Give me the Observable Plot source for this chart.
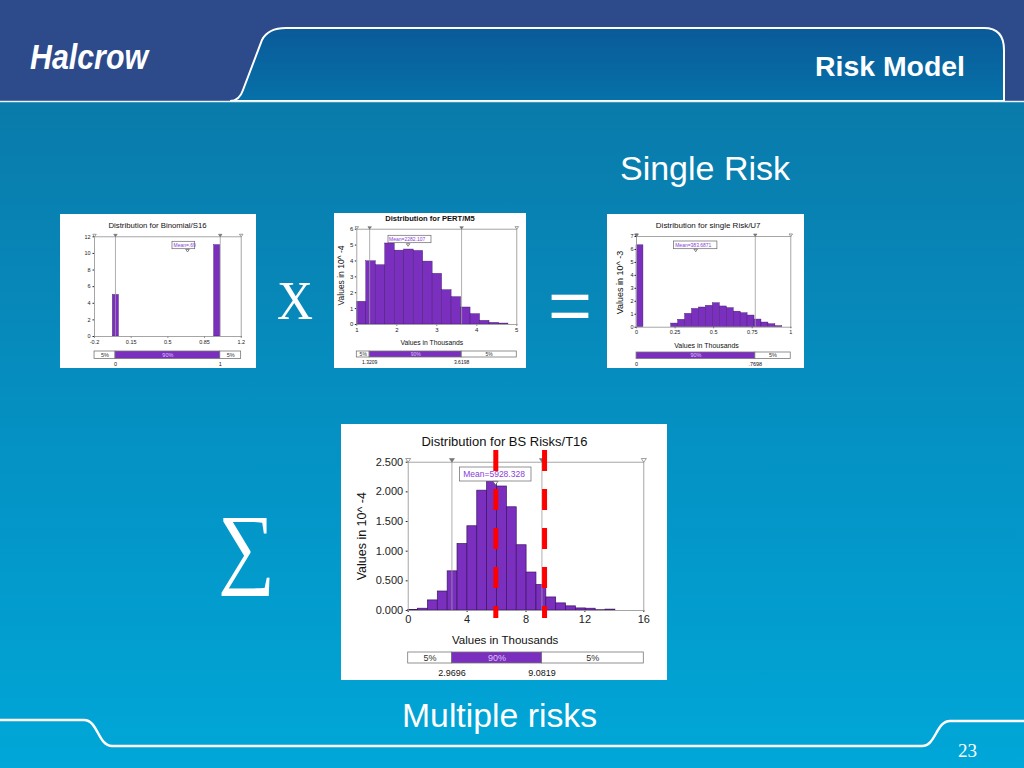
<!DOCTYPE html>
<html>
<head>
<meta charset="utf-8">
<script src="https://cdn.jsdelivr.net/npm/d3@7"></script>
<script src="https://cdn.jsdelivr.net/npm/@observablehq/plot@0.6"></script>
<style>
  body { margin: 0; background: #fff; }
  #slide { position: relative; width: 1024px; height: 768px; overflow: hidden;
           background: linear-gradient(#0b74a3, #0590c2 55%, #00a7d8);
           font-family: "Liberation Sans", Arial, sans-serif; }
  .box { position: absolute; background: #fff; }
  svg.deco { position: absolute; left: 0; top: 0; }
</style>
</head>
<body>
<div id="slide">
<svg class="deco" width="1024" height="768">
  <defs>
    <linearGradient id="tabg" x1="0" y1="0" x2="0" y2="1">
      <stop offset="0" stop-color="#0a5a99"/>
      <stop offset="1" stop-color="#0671a8"/>
    </linearGradient>
  </defs>
  <rect x="0" y="0" width="1024" height="101" fill="#2d4a8b"/>
  <path d="M230,101 C238,101 241,96 243,90 L262,40 Q268,28 286,28 L984,28 Q1004,28 1004,50 L1004,101 Z"
        fill="url(#tabg)" stroke="#ffffff" stroke-width="2"/>
  <line x1="0" y1="101.5" x2="1024" y2="101.5" stroke="#e6f1f8" stroke-width="1.5"/>
  <path d="M0,720 L84,720 C98,720 98,746 112,746 L922,746 C936,746 936,721 950,721 L1024,721"
        fill="none" stroke="#ffffff" stroke-width="2.5"/>
  <text x="30" y="69" fill="#fff" font-family="Liberation Sans" font-weight="bold" font-style="italic"
        font-size="35" textLength="118" lengthAdjust="spacingAndGlyphs">Halcrow</text>
  <text x="965" y="76" fill="#fff" text-anchor="end" font-family="Liberation Sans" font-weight="bold"
        font-size="27" textLength="150" lengthAdjust="spacingAndGlyphs">Risk Model</text>
  <text x="620" y="180" fill="#fff" font-family="Liberation Sans" font-size="33"
        textLength="170" lengthAdjust="spacingAndGlyphs">Single Risk</text>
  <text x="277" y="319" fill="#fff" font-family="Liberation Serif" font-size="54"
        textLength="36" lengthAdjust="spacingAndGlyphs">X</text>
  <text x="548" y="330" fill="#fff" font-family="Liberation Sans" font-size="72"
        textLength="44" lengthAdjust="spacingAndGlyphs">=</text>
  <text x="218" y="577" fill="#fff" font-family="Liberation Serif" font-size="90"
        textLength="57" lengthAdjust="spacingAndGlyphs">∑</text>
  <text x="402" y="727" fill="#fff" font-family="Liberation Sans" font-size="33"
        textLength="195" lengthAdjust="spacingAndGlyphs">Multiple risks</text>
  <text x="958" y="757" fill="#fff" font-family="Liberation Serif" font-size="19">23</text>
</svg>
</div>
<script>
// ================= DATA =================
// Binomial/S16
const binomialX1 = [-0.025, 0.942];
const binomialX2 = [0.033, 1.0];
const binomialCounts = [5, 11];
const binomialPct = [0, 1];
const binomialPctLabels = ["0", "1"];
const binomialMean = 0.6875;
const binomialMeanLabel = "Mean=.69";
const binomialXTicks = [-0.2, 0.15, 0.5, 0.85, 1.2];
const binomialXTickLabels = ["-0.2", "0.15", "0.5", "0.85", "1.2"];
const binomialYTicks = [0, 2, 4, 6, 8, 10, 12];

// PERT/M5 (values in 10^-4, x in thousands)
const pertStart = 1, pertWidth = 0.237;
const pertValues = [1.43, 3.98, 3.73, 5.1, 4.65, 4.72, 4.63, 3.96, 3.19, 2.16, 1.72, 1.07, 0.65, 0.23, 0.1, 0.06];
const pertPct = [1.3209, 3.6198];
const pertPctLabels = ["1.3209", "3.6198"];
const pertMean = 2.2821;
const pertMeanLabel = "Mean=2282.107";
const pertXTicks = [1, 2, 3, 4, 5];
const pertYTicks = [0, 1, 2, 3, 4, 5, 6];

// single Risk/U7 (values in 10^-3, x in thousands)
const singleStart = 0, singleWidth = 0.045;
const singleValues = [6.32, 0, 0, 0, 0, 0.28, 0.57, 1.03, 1.41, 1.52, 1.65, 1.85, 1.6, 1.47, 1.2, 1.08, 0.9, 0.59, 0.36, 0.23, 0.08];
const singlePct = [0, 0.7698];
const singlePctLabels = ["0", ".7698"];
const singleMean = 0.3837;
const singleMeanLabel = "Mean=383.6871";
const singleXTicks = [0, 0.25, 0.5, 0.75, 1];
const singleXTickLabels = ["0", "0.25", "0.5", "0.75", "1"];
const singleYTicks = [0, 1, 2, 3, 4, 5, 6, 7];

// BS Risks/T16 (values in 10^-4, x in thousands)
const bsStart = 0, bsWidth = 0.67;
const bsValues = [0.01, 0.03, 0.17, 0.32, 0.66, 1.12, 1.42, 2.02, 2.18, 2.09, 1.74, 1.10, 0.64, 0.43, 0.22, 0.12, 0.07, 0.035, 0.03, 0.005, 0.015];
const bsPct = [2.9696, 9.0819];
const bsPctLabels = ["2.9696", "9.0819"];
const bsMean = 5.9283;
const bsMeanLabel = "Mean=5928.328";
const bsXTicks = [0, 4, 8, 12, 16];
const bsYTicks = [0, 0.5, 1, 1.5, 2, 2.5];
const bsRedLines = [5.95, 9.26];

const bandLabels = ["5%", "90%", "5%"];

// ================= HELPERS =================
const PURPLE = "#7b2fbf", EDGE = "#3a1560", GRAY = "#9c9c9c";
const triDown = {
  draw(ctx, size) {
    const r = Math.sqrt(size / Math.PI);
    const w = r * 1.1, h = r * 1.6;
    ctx.moveTo(-w, -h / 2); ctx.lineTo(w, -h / 2); ctx.lineTo(0, h / 2); ctx.closePath();
  }
};
const binsFrom = (start, width, values) => values.map((v, i) => ({x1: start + i * width, x2: start + (i + 1) * width, y: v}));

function chart(c) {
  const slide = document.getElementById("slide");
  const box = document.createElement("div");
  box.className = "box";
  Object.assign(box.style, {left: c.box.l + "px", top: c.box.t + "px", width: c.box.w + "px", height: c.box.h + "px"});
  slide.appendChild(box);

  const f = c.frame;
  const mainH = c.pct.t - 1 - c.box.t;
  const mL = f.l - c.box.l, mR = c.box.l + c.box.w - f.r, mT = f.t - c.box.t, mB = c.box.t + mainH - f.b;
  const fcx = (f.l + f.r) / 2, fcy = (f.t + f.b) / 2;
  const [xmin, xmax] = c.xDomain;
  const xLab = new Map(c.xTicks.map((t, i) => [t, c.xTickLabels ? c.xTickLabels[i] : String(t)]));
  const font = '"Liberation Sans", Arial, sans-serif';

  const marks = [
    Plot.rectY(c.bins, {x1: "x1", x2: "x2", y: "y", fill: PURPLE, stroke: EDGE, strokeWidth: c.edgeW}),
    Plot.ruleX(c.pctValues, {stroke: GRAY, strokeWidth: 0.8}),
    Plot.frame({stroke: GRAY, strokeWidth: 0.9}),
    Plot.dot([xmin, xmax], {x: d => d, frameAnchor: "top", dy: -c.triR * 0.8, symbol: triDown, r: c.triR,
      fill: "white", stroke: "#777", strokeWidth: 0.7}),
    Plot.dot(c.pctValues, {x: d => d, frameAnchor: "top", dy: -c.triR * 0.8, symbol: triDown, r: c.triR,
      fill: "#777", stroke: "#666", strokeWidth: 0.5}),
    Plot.text([c.title], {text: d => d, frameAnchor: "top", lineAnchor: "middle", textAnchor: "middle",
      dx: c.titlePos.x - fcx, dy: c.titlePos.y - f.t, fontSize: c.titlePos.fs, fill: "#111",
      fontWeight: c.titlePos.bold ? "bold" : "normal"}),
    Plot.rect([c.mean.x], {x1: d => d, x2: d => d, insetLeft: -c.mean.l, insetRight: -c.mean.r,
      insetTop: c.mean.t - f.t, insetBottom: f.b - c.mean.b, fill: "white", stroke: "#666", strokeWidth: 0.7}),
    Plot.text([c.mean.x], {x: d => d, text: () => c.mean.label, frameAnchor: "top", textAnchor: "start",
      lineAnchor: "middle", dx: c.mean.dx, dy: c.mean.textY - f.t, fontSize: c.mean.fs, fill: "#8a3dd6"}),
    Plot.dot([c.mean.x], {x: d => d, frameAnchor: "top", dy: c.mean.triY - f.t, symbol: triDown, r: c.triR,
      fill: "white", stroke: "#555", strokeWidth: 0.7})
  ];
  if (c.ylabel) marks.push(Plot.text([c.ylabel.text], {text: d => d, frameAnchor: "left", rotate: -90,
      textAnchor: "middle", lineAnchor: "middle", dx: c.ylabel.x - f.l, dy: c.ylabel.y - fcy,
      fontSize: c.ylabel.fs, fill: "#111"}));
  if (c.xlabel) marks.push(Plot.text([c.xlabel.text], {text: d => d, frameAnchor: "bottom",
      textAnchor: "middle", lineAnchor: "middle", dx: c.xlabel.x - fcx, dy: c.xlabel.y - f.b,
      fontSize: c.xlabel.fs, fill: "#111"}));
  if (c.redLines) marks.push(Plot.ruleX(c.redLines, {stroke: "#ff0000", strokeWidth: 5,
      strokeDasharray: "21 18", insetTop: -(f.t - c.redTop), insetBottom: -(c.redBottom - f.b)}));

  const main = Plot.plot({
    width: c.box.w, height: mainH,
    marginLeft: mL, marginRight: mR, marginTop: mT, marginBottom: mB,
    style: {background: "transparent", fontFamily: font, fontSize: c.tickFs + "px", color: "#222", overflow: "visible"},
    x: {domain: c.xDomain, ticks: c.xTicks, tickFormat: d => xLab.get(d), tickSize: c.tickSize,
        tickPadding: c.xTickY - f.b - c.tickSize - 0.35 * c.tickFs, label: null},
    y: {domain: c.yDomain, ticks: c.yTicks, tickFormat: c.yFormat || (d => String(d)), tickSize: c.tickSize,
        tickPadding: c.yTickPad, label: null},
    marks
  });
  Object.assign(main.style, {position: "absolute", left: c.box.l + "px", top: c.box.t + "px"});
  slide.appendChild(main);

  // percentile band
  const p = c.pct;
  const segs = [];
  if (c.pctValues[0] > xmin) segs.push({x1: xmin, x2: c.pctValues[0], label: bandLabels[0], purple: false});
  segs.push({x1: c.pctValues[0], x2: c.pctValues[1], label: bandLabels[1], purple: true});
  if (c.pctValues[1] < xmax) segs.push({x1: c.pctValues[1], x2: xmax, label: bandLabels[2], purple: false});
  const pLab = new Map(c.pctValues.map((v, i) => [v, c.pctLabels[i]]));
  const pH = c.box.t + c.box.h - (p.t - 1);
  const band = Plot.plot({
    width: c.box.w, height: pH,
    marginLeft: mL, marginRight: mR, marginTop: 1, marginBottom: c.box.t + c.box.h - p.b,
    style: {background: "transparent", fontFamily: font, fontSize: p.fs + "px", color: "#111", overflow: "visible"},
    x: {domain: c.xDomain, ticks: c.pctValues, tickFormat: d => pLab.get(d), tickSize: 0,
        tickPadding: p.labelY - p.b - 0.35 * p.fs, label: null},
    marks: [
      Plot.rect(segs.filter(d => !d.purple), {x1: "x1", x2: "x2", fill: "white", stroke: "#777", strokeWidth: 0.8}),
      Plot.rect(segs.filter(d => d.purple), {x1: "x1", x2: "x2", fill: PURPLE, stroke: "#777", strokeWidth: 0.8}),
      Plot.text(segs.filter(d => !d.purple), {x: d => (d.x1 + d.x2) / 2, text: "label", frameAnchor: "middle",
        fontSize: p.fs, fill: "#333"}),
      Plot.text(segs.filter(d => d.purple), {x: d => (d.x1 + d.x2) / 2, text: "label", frameAnchor: "middle",
        fontSize: p.fs, fill: "#dcc4f7"})
    ]
  });
  Object.assign(band.style, {position: "absolute", left: c.box.l + "px", top: (p.t - 1) + "px"});
  slide.appendChild(band);
}

// ================= CHARTS =================
chart({
  box: {l: 60, t: 214, w: 196, h: 154},
  frame: {l: 94, r: 240.7, t: 236.3, b: 336},
  title: "Distribution for Binomial/S16", titlePos: {x: 157, y: 225, fs: 7.8},
  bins: binomialCounts.map((v, i) => ({x1: binomialX1[i], x2: binomialX2[i], y: v})),
  xDomain: [-0.2, 1.2], yDomain: [0, 12],
  xTicks: binomialXTicks, xTickLabels: binomialXTickLabels, yTicks: binomialYTicks,
  tickFs: 5.5, tickSize: 1.5, xTickY: 342, yTickPad: 2.5, edgeW: 0.4, triR: 1.6,
  pctValues: binomialPct, pctLabels: binomialPctLabels,
  mean: {x: binomialMean, label: binomialMeanLabel, l: 15, r: 7.7, t: 241.3, b: 248.7, textY: 245, dx: -14, triY: 250.2, fs: 5},
  pct: {t: 351.3, b: 358.7, labelY: 364, fs: 5.5}
});

chart({
  box: {l: 334, t: 213, w: 192, h: 155},
  frame: {l: 356.3, r: 516.3, t: 228.7, b: 324},
  title: "Distribution for PERT/M5", titlePos: {x: 429.5, y: 218.5, fs: 7.6, bold: true},
  bins: binsFrom(pertStart, pertWidth, pertValues),
  xDomain: [1, 5], yDomain: [0, 6],
  xTicks: pertXTicks, yTicks: pertYTicks,
  tickFs: 6, tickSize: 1.5, xTickY: 329.3, yTickPad: 2, edgeW: 0.4, triR: 1.6,
  ylabel: {text: "Values in 10^ -4", x: 340.5, y: 275, fs: 8.5},
  xlabel: {text: "Values in Thousands", x: 431.3, y: 342.7, fs: 6.8},
  pctValues: pertPct, pctLabels: pertPctLabels,
  mean: {x: pertMean, label: pertMeanLabel, l: 19.6, r: 23.4, t: 235.3, b: 242.7, textY: 239, dx: -19, triY: 244.5, fs: 5},
  pct: {t: 350.7, b: 356.7, labelY: 361, fs: 5}
});

chart({
  box: {l: 607, t: 214, w: 197, h: 154},
  frame: {l: 636, r: 790.3, t: 236, b: 326.7},
  title: "Distribution for single Risk/U7", titlePos: {x: 707.7, y: 224.7, fs: 8},
  bins: binsFrom(singleStart, singleWidth, singleValues).filter(d => d.y > 0),
  xDomain: [0, 1], yDomain: [0, 7],
  xTicks: singleXTicks, xTickLabels: singleXTickLabels, yTicks: singleYTicks,
  tickFs: 5.5, tickSize: 1.5, xTickY: 331.3, yTickPad: 1.5, edgeW: 0.4, triR: 1.6,
  ylabel: {text: "Values in 10^ -3", x: 620, y: 282, fs: 9},
  xlabel: {text: "Values in Thousands", x: 706, y: 345.3, fs: 7},
  pctValues: singlePct, pctLabels: singlePctLabels,
  mean: {x: singleMean, label: singleMeanLabel, l: 21.6, r: 21.7, t: 241, b: 248.7, textY: 244.8, dx: -20.5, triY: 250, fs: 5},
  pct: {t: 352.3, b: 358.7, labelY: 364.3, fs: 5.5}
});

chart({
  box: {l: 341, t: 424, w: 326, h: 256},
  frame: {l: 407.7, r: 643.3, t: 461.7, b: 610},
  title: "Distribution for BS Risks/T16", titlePos: {x: 504, y: 441.7, fs: 13},
  bins: binsFrom(bsStart, bsWidth, bsValues),
  xDomain: [0, 16], yDomain: [0, 2.5],
  xTicks: bsXTicks, yTicks: bsYTicks, yFormat: d3.format(".3f"),
  tickFs: 11, tickSize: 2, xTickY: 619, yTickPad: 3, edgeW: 0.7, triR: 2.3,
  ylabel: {text: "Values in 10^ -4", x: 361, y: 535.7, fs: 12.5},
  xlabel: {text: "Values in Thousands", x: 504.7, y: 640, fs: 11.5},
  pctValues: bsPct, pctLabels: bsPctLabels,
  mean: {x: bsMean, label: bsMeanLabel, l: 35.4, r: 36, t: 467, b: 481, textY: 474, dx: -32.3, triY: 482.7, fs: 8.5},
  redLines: bsRedLines, redTop: 450, redBottom: 618,
  pct: {t: 652, b: 663, labelY: 672.3, fs: 9}
});
</script>
</body>
</html>
